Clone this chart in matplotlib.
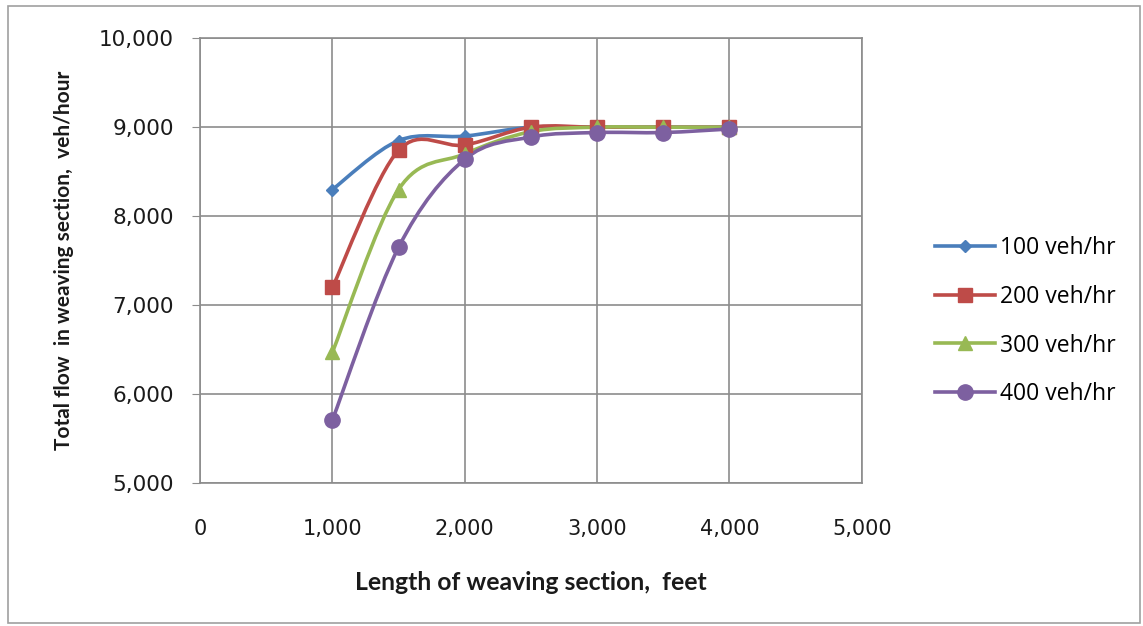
import matplotlib
matplotlib.use("Agg")
import matplotlib.pyplot as plt
from matplotlib.path import Path
from matplotlib.patches import PathPatch, Rectangle
from matplotlib.ticker import FuncFormatter, MultipleLocator
from matplotlib.lines import Line2D

lengths = [1000, 1500, 2000, 2500, 3000, 3500, 4000]
flow_100 = [8300, 8850, 8900, 9000, 9000, 9000, 9000]
flow_200 = [7200, 8740, 8800, 9000, 9000, 9000, 9000]
flow_300 = [6470, 8300, 8700, 8950, 9000, 9000, 9000]
flow_400 = [5710, 7650, 8640, 8890, 8940, 8940, 8980]
labels = ["100 veh/hr", "200 veh/hr", "300 veh/hr", "400 veh/hr"]
colors = ["#4A7EBB", "#BE4B48", "#98B954", "#7D60A0"]
markers = ["D", "s", "^", "o"]
msizes = [6.5, 9.5, 9.5, 11]

fig = plt.figure(figsize=(11.43, 6.26), dpi=100)
fig.patches.append(Rectangle((0.007, 0.005), 0.99, 0.985, transform=fig.transFigure,
                             fill=False, edgecolor="#A0A0A0", linewidth=1.2))
ax = fig.add_axes([0.175, 0.228, 0.579, 0.711])


def smooth_path(xs, ys):
    verts = [(xs[0], ys[0])]
    codes = [Path.MOVETO]
    n = len(xs)
    for i in range(n - 1):
        x0, y0 = (xs[i - 1], ys[i - 1]) if i > 0 else (xs[i], ys[i])
        x1, y1 = xs[i], ys[i]
        x2, y2 = xs[i + 1], ys[i + 1]
        x3, y3 = (xs[i + 2], ys[i + 2]) if i + 2 < n else (x2, y2)
        c1 = (x1 + (x2 - x0) / 6.0, y1 + (y2 - y0) / 6.0)
        c2 = (x2 - (x3 - x1) / 6.0, y2 - (y3 - y1) / 6.0)
        verts += [c1, c2, (x2, y2)]
        codes += [Path.CURVE4] * 3
    return Path(verts, codes)


series = [flow_100, flow_200, flow_300, flow_400]
handles = []
for ys, c, m, ms, lab in zip(series, colors, markers, msizes, labels):
    p = PathPatch(smooth_path(lengths, ys), fill=False, edgecolor=c, linewidth=2.6,
                  zorder=3, transform=ax.transData)
    ax.add_patch(p)
    ax.plot(lengths, ys, linestyle="none", marker=m, markersize=ms, color=c,
            markeredgecolor=c, zorder=4)
    handles.append(Line2D([], [], color=c, linewidth=2.6, marker=m, markersize=ms,
                          markeredgecolor=c, label=lab))

ax.set_xlim(0, 5000)
ax.set_ylim(5000, 10000)
ax.xaxis.set_major_locator(MultipleLocator(1000))
ax.yaxis.set_major_locator(MultipleLocator(1000))
fmt = FuncFormatter(lambda v, _: f"{int(v):,}")
ax.xaxis.set_major_formatter(fmt)
ax.yaxis.set_major_formatter(fmt)
ax.grid(True, color="#8C8C8C", linewidth=1.2)
ax.set_axisbelow(True)
for s in ax.spines.values():
    s.set_color("#8C8C8C")
    s.set_linewidth(1.2)
ax.tick_params(axis="y", direction="out", length=6, color="#8C8C8C", labelsize=15.5,
               pad=13, labelcolor="#1a1a1a")
ax.tick_params(axis="x", length=0, labelsize=15, pad=26, labelcolor="#1a1a1a")
for t in ax.get_xticklabels() + ax.get_yticklabels():
    t.set_family("DejaVu Sans")

ax.set_xlabel("Length of weaving section,  feet", fontsize=17.8, fontweight="bold",
              family="Lato", labelpad=23, color="#1a1a1a")
ax.set_ylabel("Total flow  in weaving section,  veh/hour", fontsize=15, fontweight="bold",
              family="Lato", labelpad=18, color="#1a1a1a")

leg = fig.legend(handles=handles, loc="center left", bbox_to_anchor=(0.8, 0.487),
                 frameon=False, prop={"family": "Open Sans", "size": 16.5},
                 handlelength=2.6, labelspacing=1.08, handletextpad=0.25)

fig.savefig("out.png", dpi=100)
